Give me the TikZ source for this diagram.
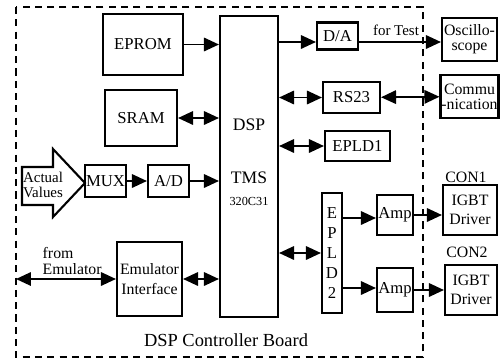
\documentclass[tikz,border=0pt]{standalone}
\usepackage{fontspec}
\setmainfont{Liberation Serif}
\usetikzlibrary{arrows,arrows.meta,positioning}

\begin{document}
\begin{tikzpicture}[x=0.02cm,y=-0.02cm,line width=1pt,
  >={Triangle[length=3mm,width=2.7mm]}]
  \tikzset{blk/.style 2 args={draw,line width=1.2pt,inner sep=0.5pt,minimum width=#1,minimum height=#2,align=center,font=\fontsize{9.5}{11.3}\selectfont}}
  \tikzset{small/.style={font=\fontsize{9}{8.5}\selectfont}}

  \useasboundingbox (0,0) rectangle (500,359);
  \draw[dash pattern=on 4pt off 3pt] (16,7) rectangle (423,357);

  \node (eprom) [blk={1.6cm}{1.22cm}] at (143,44.5) {EPROM};
  \node (sram) [blk={1.44cm}{1.12cm}] at (141,118) {SRAM};
  \node (dsp) [blk={1.16cm}{6.02cm}] at (249,166.5) {};
  \node (dspa) [font=\fontsize{10}{11}\selectfont] at (249,125) {DSP};
  \node (tms) [font=\fontsize{10}{11}\selectfont] at (249,178) {TMS};
  \node (c31) [font=\fontsize{7}{8}\selectfont] at (249,201) {320C31};

  % actual values
  \draw[line width=1.2pt] (22,167) -- (53,167) -- (53,149) -- (85,183) -- (53,217) -- (53,205) -- (22,205) -- cycle;
  \node (actual) [align=left,font=\fontsize{8.5}{8.5}\selectfont] at (43,185) {Actual\\Values};
  \node (mux) [blk={0.78cm}{0.64cm}] at (105.5,181) {MUX};
  \node (ad) [blk={0.82cm}{0.64cm}] at (168.5,181) {A/D};

  \node (emu) [blk={1.3cm}{1.48cm},font=\fontsize{9}{11.3}\selectfont] at (149.5,279) {Emulator\\Interface};
  \coordinate (emuin) at (16,279);
  \node (from) [anchor=west,align=left,font=\fontsize{9}{9.5}\selectfont] at (36,261) {from\\Emulator};

  \node (da) [blk={0.82cm}{0.54cm}] at (337.5,36) {D/A};
  \node (osc) [blk={1.1cm}{0.86cm},small] at (469.5,39.5) {Oscillo-\\scope};
  \node (fortest) [font=\fontsize{8.5}{9}\selectfont] at (396,30) {for Test};
  \node (rs) [blk={1.14cm}{0.62cm}] at (351.5,97.5) {RS23};
  \node (comm) [blk={1.1cm}{0.86cm},small] at (469.5,96.5) {Commu\\-nication};
  \node (epld1) [blk={1.3cm}{0.6cm}] at (357.5,146) {EPLD1};
  \node (con1) [font=\fontsize{9}{10}\selectfont] at (466,177) {CON1};

  \node (epld2) [blk={0.4cm}{2.4cm}] at (332,253) {E\\P\\L\\D\\2};
  \node (amp1) [blk={0.72cm}{0.8cm}] at (395,215) {Amp};
  \node (amp2) [blk={0.72cm}{0.88cm}] at (395,290) {Amp};
  \node (igbt1) [blk={1.08cm}{1cm},font=\fontsize{9}{11}\selectfont] at (470,210) {IGBT\\Driver};
  \node (con2) [font=\fontsize{9}{10}\selectfont] at (467,252) {CON2};
  \node (igbt2) [blk={1.04cm}{1cm},font=\fontsize{9}{11}\selectfont] at (471,290) {IGBT\\Driver};

  \node (board) [font=\fontsize{10.5}{12}\selectfont] at (226,340) {DSP Controller Board};

  % connectors
  \draw[->] (eprom) -- (eprom -| dsp.west);
  \draw[<->] (sram) -- (sram -| dsp.west);
  \draw[->] (mux) -- (ad);
  \draw[->] (ad) -- (ad -| dsp.west);
  \draw[<->] (emuin) -- (emu);
  \draw[<->] (emu) -- (emu -| dsp.west);
  \draw[->] (dsp.east |- 0,42) -- (da.west |- 0,42);
  \draw[->] (da.east |- 0,42) -- (osc.west |- 0,42);
  \draw[<->] (dsp.east |- rs) -- (rs);
  \draw[<->] (rs) -- (comm);
  \draw[<->] (dsp.east |- epld1) -- (epld1);
  \draw[<->] (dsp.east |- epld2) -- (epld2);
  \draw[->] (epld2.east |- 0,218) -- (amp1.west |- 0,218);
  \draw[->] (epld2.east |- 0,288) -- (amp2.west |- 0,288);
  \draw[->] (amp1) -- (amp1 -| igbt1.west);
  \draw[->] (amp2) -- (igbt2);
\end{tikzpicture}
\end{document}
